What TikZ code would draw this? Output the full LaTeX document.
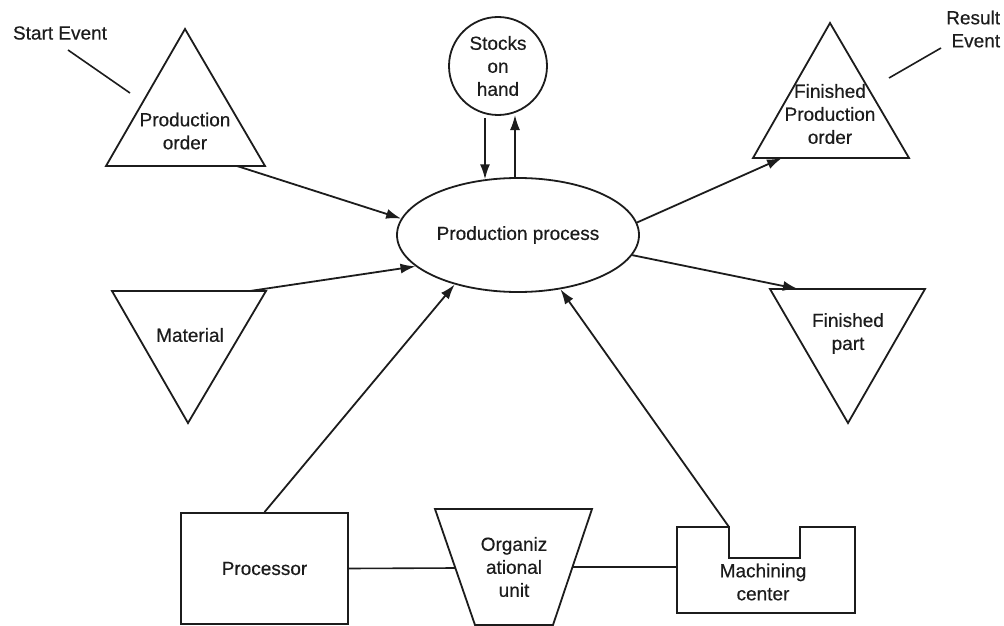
\documentclass[tikz,border=0pt]{standalone}
\usepackage{fontspec}
\setmainfont{Liberation Sans}[FakeBold=0.4]
\usetikzlibrary{arrows.meta,shapes.geometric,calc}
\definecolor{ink}{HTML}{1C1C1C}
\begin{document}
\begin{tikzpicture}[x=1pt,y=-1pt,
  line width=1.8pt, draw=ink,
  every node/.style={font=\fontsize{19}{23}\selectfont, text=ink, inner sep=0pt},
  lbl/.style={align=center},
  shapeline/.style={draw=ink, line width=1.8pt, line join=miter},
  arr/.style={draw=ink, line width=1.8pt, -{Latex[length=15pt,width=10pt]}},
  link/.style={draw=ink, line width=1.6pt}]
\useasboundingbox (0,0) rectangle (1004,626);
\fill[white] (0,0) rectangle (1004,626);

% central function
\node[ellipse, draw=ink, line width=1.8pt, minimum width=242pt, minimum height=114pt] (pp) at (518,235) {Production process};

% stocks on hand
\node[circle, draw=ink, line width=1.8pt, minimum size=98pt, align=center] (soh) at (498,66) {Stocks\\on\\hand};

% start event: production order
\coordinate (po-a) at (185,29);
\coordinate (po-l) at (106,166);
\coordinate (po-r) at (265,166);
\draw[shapeline] (po-a) -- (po-l) -- (po-r) -- cycle;
\node[lbl] (po) at (185,131) {Production\\order};
\coordinate (po-out) at (237,166);

% result event: finished production order
\coordinate (fpo-a) at (830,23);
\coordinate (fpo-l) at (753,158);
\coordinate (fpo-r) at (909,158);
\draw[shapeline] (fpo-a) -- (fpo-l) -- (fpo-r) -- cycle;
\node[lbl] (fpo) at (830,114) {Finished\\Production\\order};
\coordinate (fpo-in) at (782,158);

% material
\coordinate (mat-l) at (112,291);
\coordinate (mat-r) at (266,291);
\coordinate (mat-b) at (188,423);
\draw[shapeline] (mat-l) -- (mat-r) -- (mat-b) -- cycle;
\node (mat) at (190,335) {Material};
\coordinate (mat-out) at (250,291);

% finished part
\coordinate (fp-l) at (770,289);
\coordinate (fp-r) at (925,289);
\coordinate (fp-b) at (848,423);
\draw[shapeline] (fp-l) -- (fp-r) -- (fp-b) -- cycle;
\node[lbl] (fp) at (848,333.5) {Finished\\part};
\coordinate (fp-in) at (798,289);

% processor
\node[draw=ink, line width=1.8pt, minimum width=167pt, minimum height=111pt] (proc) at (264.5,568.5) {Processor};

% organizational unit
\coordinate (ou-tl) at (435,509);
\coordinate (ou-tr) at (592,509);
\coordinate (ou-br) at (553,625);
\coordinate (ou-bl) at (475,625);
\draw[shapeline] (ou-tl) -- (ou-tr) -- (ou-br) -- (ou-bl) -- cycle;
\node[lbl] (ou) at (514,567) {Organiz\\ational\\unit};
\coordinate (ou-w) at (455,568);
\coordinate (ou-e) at (572.5,567);

% machining center
\draw[shapeline] (677,527) -- (729,527) -- (729,558) -- (800,558) -- (800,527)
  -- (855,527) -- (855,613) -- (677,613) -- cycle;
\node[lbl] (mc) at (763,582) {Machining\\center};
\coordinate (mc-w) at (677,567);
\coordinate (mc-out) at (729,527);

% event captions
\node (se) at (60,33) {Start Event};
\coordinate (se-a) at (68,50);
\coordinate (se-b) at (130,93);
\draw[link] (se-a) -- (se-b);
\node[align=right, anchor=east] (re) at (1001,29) {Result\\Event};
\coordinate (re-a) at (941,48);
\coordinate (re-b) at (889,78);
\draw[link] (re-a) -- (re-b);

% flows into and out of the process
\draw[arr] (po-out) -- (pp.172.6);
\draw[arr] (mat-out) -- (pp.197);
\draw[arr] (proc.north) -- (pp.218);
\draw[arr] (mc-out) -- (pp.308.7);
\draw[arr] (pp.6.3) -- (fpo-in);
\draw[arr] (pp.350.5) -- (fp-in);

% stock movements
\coordinate (sd-top) at (485,118);
\coordinate (su-top) at (515,115);
\draw[arr] (sd-top) -- (sd-top |- pp.121);
\draw[arr] (su-top |- pp.92) -- (su-top);

% resource links
\draw[link] (proc.east) -- (ou-w);
\draw[link] (ou-e) -- (mc-w);
\end{tikzpicture}
\end{document}
